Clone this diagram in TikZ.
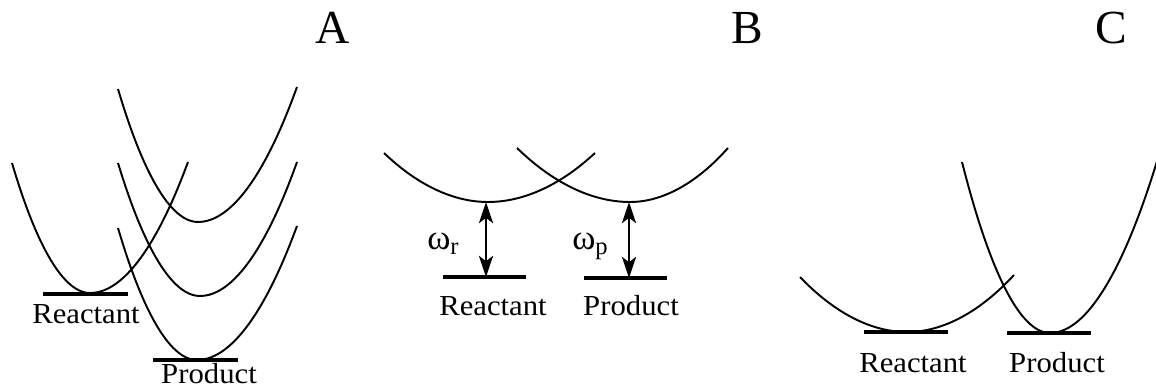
\documentclass[tikz,border=0pt]{standalone}
\usepackage{fontspec}
\usepackage{graphicx}
\setmainfont{Liberation Serif}
\usetikzlibrary{arrows.meta}
\tikzset{
  curve/.style={line width=1.1pt},
  level/.style={line width=2pt},
  gap/.style={line width=1.6pt,{Stealth[length=12pt,width=8pt,inset=3pt]}-{Stealth[length=12pt,width=8pt,inset=3pt]}},
  lab/.style={inner sep=0pt,anchor=base,font=\fontsize{16.5}{18}\selectfont},
  omeg/.style={inner sep=0pt,anchor=base west,font=\fontsize{20}{22}\selectfont},
  panel/.style={inner sep=0pt,anchor=base,font=\fontsize{27}{30}\selectfont}
}
\newcommand{\wide}[1]{\scalebox{1.06}[1]{#1}}
\begin{document}
\begin{tikzpicture}[x=0.02cm,y=-0.02cm]
\useasboundingbox (0,0) rectangle (1156,389);
% panel letters
\node[panel] (la) at (333,43) {A};
\node[panel] (lb) at (747,43) {B};
\node[panel] (lc) at (1111,43) {C};
% ---------- Panel A ----------
\draw[curve] (12,163) parabola bend (90,293) (188,162);
\draw[curve] (118,89) parabola bend (198,222) (297,87);
\draw[curve] (118,163) parabola bend (200,296) (297,162);
\draw[curve] (118,228) parabola bend (197,360) (297,226);
\coordinate (aR1) at (43,294); \coordinate (aR2) at (128,294);
\coordinate (aP1) at (153,360); \coordinate (aP2) at (238,360);
\draw[level] (aR1) -- (aR2);
\draw[level] (aP1) -- (aP2);
\node[lab] (aRt) at (86,323) {\wide{Reactant}};
\node[lab] (aPt) at (209,383) {\wide{Product}};
% ---------- Panel B ----------
\draw[curve] (384,153) parabola bend (488,202) (595,153);
\draw[curve] (517,148) parabola bend (630,202) (728,148);
\coordinate (bRmin) at (486,202); \coordinate (bRlev) at (486,277);
\coordinate (bPmin) at (629,202); \coordinate (bPlev) at (629,278);
\coordinate (bR1) at (443,277); \coordinate (bR2) at (526,277);
\coordinate (bP1) at (584,278); \coordinate (bP2) at (667,278);
\draw[level] (bR1) -- (bR2);
\draw[level] (bP1) -- (bP2);
\draw[gap] (bRlev) -- (bRmin);
\draw[gap] (bPlev) -- (bPmin);
\node[omeg] (wr) at (427,249) {ω\textsubscript{r}};
\node[omeg] (wp) at (572,249) {ω\textsubscript{p}};
\node[lab] (bRt) at (493,315) {\wide{Reactant}};
\node[lab] (bPt) at (631,315) {\wide{Product}};
% ---------- Panel C ----------
\draw[curve] (800,277) parabola bend (907,332) (1014,275);
\draw[curve] (962,162) parabola bend (1050,333) (1158,158);
\coordinate (cR1) at (864,332); \coordinate (cR2) at (948,332);
\coordinate (cP1) at (1007,333); \coordinate (cP2) at (1091,333);
\draw[level] (cR1) -- (cR2);
\draw[level] (cP1) -- (cP2);
\node[lab] (cRt) at (913,372) {\wide{Reactant}};
\node[lab] (cPt) at (1057,372) {\wide{Product}};
\end{tikzpicture}
\end{document}
